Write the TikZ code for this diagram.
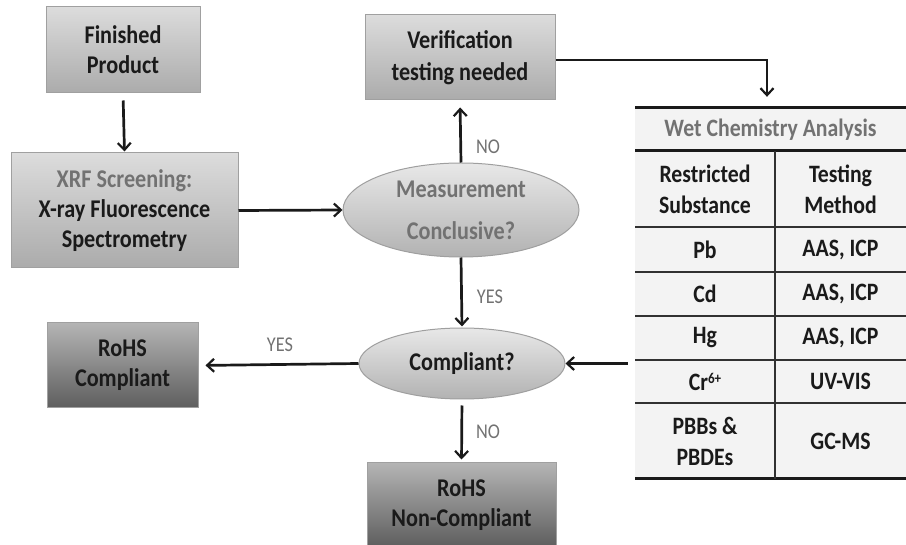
\documentclass[tikz,border=0pt]{standalone}
\usepackage{fontspec}
\setmainfont{Carlito}[FakeStretch=0.87]
\usetikzlibrary{arrows.meta,shapes.geometric,calc}

\definecolor{ink}{HTML}{1A1A1A}
\definecolor{soft}{HTML}{727272}
\definecolor{rim}{HTML}{A0A0A0}
\definecolor{tablefill}{HTML}{F3F3F3}
\definecolor{lighttop}{HTML}{DCDCDC}
\definecolor{lightbot}{HTML}{ABABAB}
\definecolor{darktop}{HTML}{B4B4B4}
\definecolor{darkbot}{HTML}{5E5E5E}
\definecolor{ovaltop}{HTML}{E8E8E8}
\definecolor{ovalbot}{HTML}{B2B2B2}

\tikzset{
  x=1pt, y=-1pt,
  txt/.style={font=\fontsize{25.5}{30}\selectfont\bfseries, text=ink, align=center},
  lightbox/.style={rectangle, draw=rim, line width=1pt, top color=lighttop, bottom color=lightbot, txt},
  darkbox/.style={rectangle, draw=rim, line width=1pt, top color=darktop, bottom color=darkbot, txt},
  decision/.style={ellipse, draw=gray!75, line width=1pt, top color=ovaltop, bottom color=ovalbot, txt, inner sep=0pt},
  flow/.style={-{Straight Barb[length=7pt,width=13pt,line width=2.2pt]}, line width=2.7pt, ink},
  lbl/.style={font=\fontsize{21}{24}\selectfont, text=soft},
  cell/.style={txt, font=\fontsize{25}{31}\selectfont\bfseries},
  rule/.style={line width=2pt, draw=ink!90},
  thickrule/.style={line width=3pt, draw=ink}
}

\begin{document}
\begin{tikzpicture}
\useasboundingbox (0,0) rectangle (906,545);
\clip (0,0) rectangle (906,545);

% process boxes
\node[lightbox, minimum width=154pt, minimum height=86pt] (fp) at (123,50) {Finished\\Product};
\node[lightbox, minimum width=227pt, minimum height=115pt] (xrf) at (124.5,210.5)
  {\textcolor{soft}{XRF Screening:}\\X-ray Fluorescence\\Spectrometry};
\node[lightbox, minimum width=190pt, minimum height=85pt, font=\fontsize{25.5}{32}\selectfont\bfseries] (ver) at (460,57.5) {Verification\\testing needed};
\node[darkbox, minimum width=151pt, minimum height=85pt] (rc) at (122.5,365.5) {RoHS\\Compliant};
\node[darkbox, minimum width=189pt, minimum height=84pt] (nc) at (461.5,505) {RoHS\\Non-Compliant};

% decisions
\node[decision, minimum width=236pt, minimum height=94pt, text=soft, font=\fontsize{25.5}{42}\selectfont\bfseries] (meas) at (461,210) {Measurement\\Conclusive?};
\node[decision, minimum width=206pt, minimum height=71pt] (cmp) at (462,363.5) {Compliant?};

% wet chemistry table
\node[rectangle, fill=tablefill, minimum width=271pt, minimum height=371pt, inner sep=0pt] (tbl) at (770.5,293.5) {};
\draw[thickrule] (635,108) -- (906,108);
\draw[thickrule] (635,151) -- (906,151);
\draw[rule] (635,227) -- (906,227);
\draw[rule] (635,272) -- (906,272);
\draw[rule] (635,316) -- (906,316);
\draw[rule] (635,360) -- (906,360);
\draw[rule] (635,403) -- (906,403);
\draw[thickrule] (635,479) -- (906,479);
\draw[rule] (775,151) -- (775,479);

\node[cell, text=soft] (th) at (770.5,130) {Wet Chemistry Analysis};
\node[cell] (h1) at (705,189) {Restricted\\Substance};
\node[cell] (h2) at (840.5,189) {Testing\\Method};
\node[cell] (s1) at (705,249.5) {Pb};
\node[cell] (m1) at (840.5,249.5) {AAS, ICP};
\node[cell] (s2) at (705,294) {Cd};
\node[cell] (m2) at (840.5,294) {AAS, ICP};
\node[cell] (s3) at (705,338) {Hg};
\node[cell] (m3) at (840.5,338) {AAS, ICP};
\node[cell] (s4) at (705,381.5) {Cr\raisebox{7pt}{\fontsize{15}{15}\selectfont 6+}};
\node[cell] (m4) at (840.5,381.5) {UV-VIS};
\node[cell] (s5) at (705,441) {PBBs \&\\PBDEs};
\node[cell] (m5) at (840.5,441) {GC-MS};

% connectors
\draw[flow, shorten <=7pt, shorten >=1pt] (fp.south) -- (xrf.north);
\draw[flow] (xrf.east) -- (meas.west);
\draw[flow, shorten >=7pt] (meas.north) -- (ver.south);
\draw[flow, shorten >=1pt] (meas.south) -- (cmp.north);
\draw[flow, shorten <=6pt, shorten >=3pt] (cmp.south) -- (nc.north);
\draw[flow, shorten >=7pt] (cmp.west) -- (rc.east);
\coordinate (bend) at (767,60);
\draw[flow, shorten >=11pt] (ver.east |- bend) -- (bend) -- (bend |- tbl.north);
\draw[flow] (tbl.west |- cmp.east) ++(-7,0) -- (cmp.east);

% branch labels
\node[lbl] (lno1) at (488,147) {NO};
\node[lbl] (lyes1) at (490,297) {YES};
\node[lbl] (lyes2) at (280,345) {YES};
\node[lbl] (lno2) at (488,432) {NO};
\end{tikzpicture}
\end{document}
